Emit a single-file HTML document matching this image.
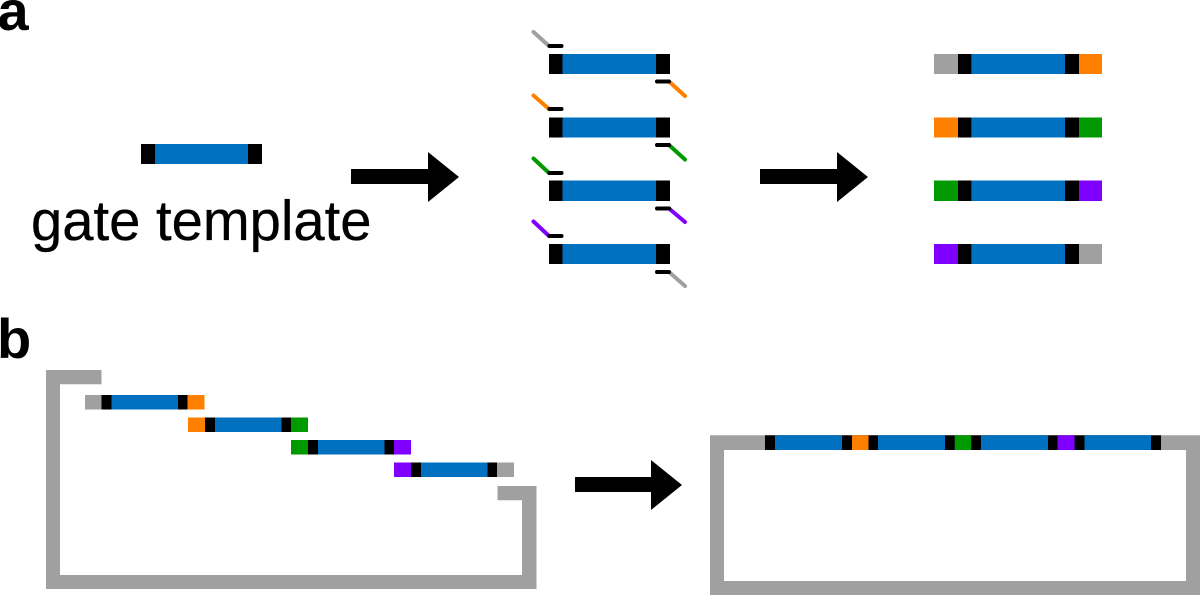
<!DOCTYPE html>
<html lang="en">
<head>
<meta charset="utf-8">
<title>Gate template diagram</title>
<style>
html,body{margin:0;padding:0;background:#fff;width:1200px;height:595px;overflow:hidden}
svg{display:block}
text{font-family:"Liberation Sans",Arial,sans-serif;fill:#000}
.s{fill:none;stroke-width:4;stroke-linecap:round}
</style>
</head>
<body>
<svg xmlns="http://www.w3.org/2000/svg" width="1200" height="595" viewBox="0 0 1200 595">
<rect width="1200" height="595" fill="#fff"/>

<!-- labels -->
<text x="-2.500" y="30" font-size="56" font-weight="700">a</text>
<text x="-3" y="358" font-size="56" font-weight="700">b</text>
<text x="31" y="240" font-size="56.200" stroke="#000" stroke-width="0.300">gate template</text>

<!-- gate template -->
<rect x="141" y="144" width="121" height="20" fill="#000"/>
<rect x="155" y="144" width="93" height="20" fill="#0070c0"/>

<!-- arrows -->
<polygon points="351,169 428,169 428,152 459,177 428,202 428,184 351,184" fill="#000"/>
<polygon points="760,169 837,169 837,152 868,177 837,202 837,184 760,184" fill="#000"/>
<polygon points="575,477 651,477 651,460 682,485 651,510 651,492 575,492" fill="#000"/>

<!-- middle column -->
<g fill="#000">
<rect x="549" y="54" width="121" height="20"/>
<rect x="549" y="117.500" width="121" height="20"/>
<rect x="549" y="180.500" width="121" height="20.500"/>
<rect x="549" y="244" width="121" height="20"/>
</g>
<g fill="#0070c0">
<rect x="562.500" y="54" width="93.500" height="20"/>
<rect x="562.500" y="117.500" width="93.500" height="20"/>
<rect x="562.500" y="180.500" width="93.500" height="20.500"/>
<rect x="562.500" y="244" width="93.500" height="20"/>
</g>
<path class="s" stroke="#a0a0a0" d="M533.500 32 549 46"/>
<path class="s" stroke="#ff8000" d="M533.500 95.500 549 109"/>
<path class="s" stroke="#009900" d="M533.500 158.500 549 173"/>
<path class="s" stroke="#8000ff" d="M533.500 221.500 549 236"/>
<path class="s" stroke="#ff8000" d="M669 81.500 685 96"/>
<path class="s" stroke="#009900" d="M669 145 685 159.500"/>
<path class="s" stroke="#8000ff" d="M669 208.500 685 222"/>
<path class="s" stroke="#a0a0a0" d="M669 272 685 286"/>
<path class="s" stroke="#000" d="M549.500 46H561.500M549.500 109H561.500M549.500 173H561.500M549.500 236H561.500M657 81.500H669M657 145H669M657 208.500H669M657 272H669"/>

<!-- right column -->
<g>
<rect x="934" y="54" width="24" height="20" fill="#a0a0a0"/>
<rect x="958" y="54" width="121" height="20" fill="#000"/>
<rect x="971.300" y="54" width="93.700" height="20" fill="#0070c0"/>
<rect x="1079" y="54" width="23" height="20" fill="#ff8000"/>

<rect x="934" y="117.500" width="24" height="20" fill="#ff8000"/>
<rect x="958" y="117.500" width="121" height="20" fill="#000"/>
<rect x="971.300" y="117.500" width="93.700" height="20" fill="#0070c0"/>
<rect x="1079" y="117.500" width="23" height="20" fill="#009900"/>

<rect x="934" y="180.500" width="24" height="20.500" fill="#009900"/>
<rect x="958" y="180.500" width="121" height="20.500" fill="#000"/>
<rect x="971.300" y="180.500" width="93.700" height="20.500" fill="#0070c0"/>
<rect x="1079" y="180.500" width="23" height="20.500" fill="#8000ff"/>

<rect x="934" y="244" width="24" height="20" fill="#8000ff"/>
<rect x="958" y="244" width="121" height="20" fill="#000"/>
<rect x="971.300" y="244" width="93.700" height="20" fill="#0070c0"/>
<rect x="1079" y="244" width="23" height="20" fill="#a0a0a0"/>
</g>

<!-- panel b left frame -->
<path d="M46 370H101.500V384.300H60V575H522V500.300H497.500V486H536.500V589H46Z" fill="#a0a0a0"/>

<!-- panel b staircase -->
<rect x="85" y="395" width="16.500" height="14.500" fill="#a0a0a0"/>
<rect x="101.500" y="395" width="86" height="14.500" fill="#000"/>
<rect x="111.500" y="395" width="66.500" height="14.500" fill="#0070c0"/>
<rect x="187.500" y="395" width="17" height="14.500" fill="#ff8000"/>

<rect x="188" y="417.500" width="17" height="14.500" fill="#ff8000"/>
<rect x="205" y="417.500" width="86" height="14.500" fill="#000"/>
<rect x="215" y="417.500" width="66.500" height="14.500" fill="#0070c0"/>
<rect x="291" y="417.500" width="17" height="14.500" fill="#009900"/>

<rect x="291" y="440" width="17" height="14.500" fill="#009900"/>
<rect x="308" y="440" width="86" height="14.500" fill="#000"/>
<rect x="318" y="440" width="66.500" height="14.500" fill="#0070c0"/>
<rect x="394" y="440" width="17" height="14.500" fill="#8000ff"/>

<rect x="394" y="462.500" width="17" height="14.500" fill="#8000ff"/>
<rect x="411" y="462.500" width="86" height="14.500" fill="#000"/>
<rect x="421" y="462.500" width="66.500" height="14.500" fill="#0070c0"/>
<rect x="497" y="462.500" width="17" height="14.500" fill="#a0a0a0"/>

<!-- panel b right closed frame -->
<path d="M710 435.300H1200V595H710ZM724 450V581H1186V450Z" fill="#a0a0a0" fill-rule="evenodd"/>
<rect x="765" y="435.300" width="396" height="14.700" fill="#000"/>
<rect x="775" y="435.300" width="67" height="14.700" fill="#0070c0"/>
<rect x="852" y="435.300" width="16.500" height="14.700" fill="#ff8000"/>
<rect x="878" y="435.300" width="67" height="14.700" fill="#0070c0"/>
<rect x="954.700" y="435.300" width="16.500" height="14.700" fill="#009900"/>
<rect x="981" y="435.300" width="67" height="14.700" fill="#0070c0"/>
<rect x="1057.500" y="435.300" width="17" height="14.700" fill="#8000ff"/>
<rect x="1084.500" y="435.300" width="66.500" height="14.700" fill="#0070c0"/>
</svg>
</body>
</html>
